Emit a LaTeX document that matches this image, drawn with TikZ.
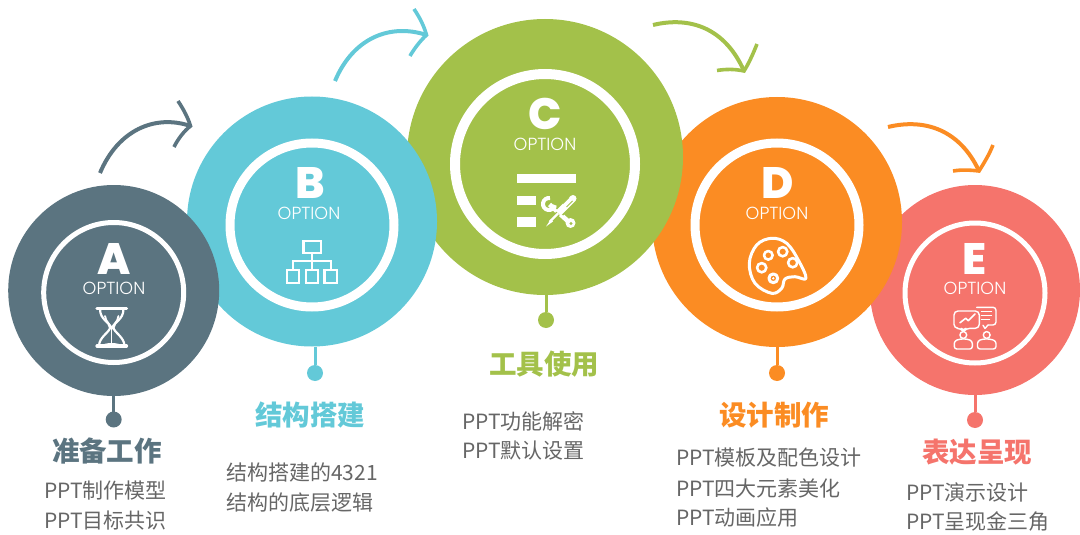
\documentclass[tikz,border=0pt]{standalone}
\usepackage{fontspec}
\setmainfont{Noto Sans CJK SC}
\newfontfamily\letterfont{Poppins ExtraBold}
\newfontfamily\optfont{Poppins Light}
\definecolor{ca}{HTML}{5B7480}
\definecolor{cb}{HTML}{63C9D8}
\definecolor{cc}{HTML}{A3C14A}
\definecolor{cd}{HTML}{FB8C23}
\definecolor{ce}{HTML}{F5746C}
\definecolor{bodygray}{HTML}{666666}
\tikzset{
  disc/.style={circle,fill=#1,inner sep=0pt,outer sep=0pt},
  ring/.style={circle,draw=white,inner sep=0pt,outer sep=0pt},
  dotnode/.style={circle,fill=#1,inner sep=0pt,outer sep=0pt,minimum size=16pt},
  stem/.style={draw=#1,line width=3pt},
  bend/.style={draw=#1,line width=4pt,line cap=butt},
  head/.style={draw=#1,line width=3.6pt,line cap=butt,line join=miter},
  letter/.style={text=white,font=\letterfont\fontsize{44}{44}\selectfont,inner sep=0pt,text height=22pt,text depth=0pt},
  opt/.style={text=white,font=\optfont\fontsize{17.5}{18}\selectfont,inner sep=0pt,text height=12.5pt,text depth=0pt},
  title/.style={text=#1,font=\bfseries\fontsize{27.5}{30}\selectfont,inner sep=0pt},
  body/.style={text=bodygray,font=\fontsize{21}{30}\selectfont,inner sep=0pt,anchor=west,align=left},
  icon/.style={draw=white,line width=#1,line join=round,line cap=round},
}
\begin{document}
\begin{tikzpicture}[x=1pt,y=-1pt]
\useasboundingbox (0,0) rectangle (1080,535);
% discs, back to front
\node[disc=ce,minimum size=210pt] (e) at (975,290) {};
\node[ring,line width=5pt,minimum size=140pt] (er) at (975,293) {};
\node[disc=cd,minimum size=250pt] (d) at (777,222) {};
\node[ring,line width=9pt,minimum size=164pt] (dr) at (777,225) {};
\node[disc=cc,minimum size=276pt] (c) at (545,157) {};
\node[ring,line width=10pt,minimum size=180pt] (cr) at (545,164) {};
\node[disc=cb,minimum size=250pt] (b) at (312,221.5) {};
\node[ring,line width=9pt,minimum size=164pt] (br) at (312,225) {};
\node[disc=ca,minimum size=211pt] (a) at (113.7,290.5) {};
\node[ring,line width=5pt,minimum size=140pt] (ar) at (113.7,292.5) {};
% dots and stems
\node[dotnode=ca] (ad) at (113.7,419.5) {};
\node[dotnode=cb] (bd) at (315,373) {};
\node[dotnode=cc] (cd1) at (546,320) {};
\node[dotnode=cd] (dd) at (777,373) {};
\node[dotnode=ce] (ed) at (975,420) {};
\draw[stem=ca] (ad) -- (ad |- a.south);
\draw[stem=cb] (bd) -- (bd |- b.south);
\draw[stem=cc] (cd1) -- (cd1 |- c.south);
\draw[stem=cd] (dd) -- (dd |- d.south);
\draw[stem=ce] (ed) -- (ed |- e.south);
% curved arrows
\coordinate (a1) at (100,173); \coordinate (a2) at (190.5,126);
\coordinate (a3) at (178,101); \coordinate (a4) at (174,147);
\draw[bend=ca] (a1) .. controls (118,130) and (155,114) .. (a2);
\draw[head=ca] (a3) .. controls (184,110) and (188,118) .. (a2) .. controls (184,131) and (178,139) .. (a4);
\coordinate (b1) at (335,81); \coordinate (b2) at (426.5,35);
\coordinate (b3) at (414,9); \coordinate (b4) at (410,56);
\draw[bend=cb] (b1) .. controls (353,38) and (390,23) .. (b2);
\draw[head=cb] (b3) .. controls (420,18) and (424,26) .. (b2) .. controls (420,41) and (414,49) .. (b4);
\coordinate (c1) at (653,25); \coordinate (c2) at (744,71);
\coordinate (c3) at (757,44); \coordinate (c4) at (717,70.5);
\draw[bend=cc] (c1) .. controls (690,16) and (725,28) .. (c2);
\draw[head=cc] (c3) .. controls (753,54) and (749,63) .. (c2) .. controls (735,69) and (726,69) .. (c4);
\coordinate (d1) at (888,127); \coordinate (d2) at (979,171);
\coordinate (d3) at (993,145); \coordinate (d4) at (953,171);
\draw[bend=cd] (d1) .. controls (925,118) and (960,130) .. (d2);
\draw[head=cd] (d3) .. controls (989,155) and (984,163) .. (d2) .. controls (970,170) and (962,169.5) .. (d4);
% circle letters
\node[letter,text height=30pt] (la) at (114,259) {A};
\node[opt] (oa) at (114,288) {OPTION};
\node[letter,text height=30pt] (lb) at (310,183) {B};
\node[opt] (ob) at (309,213.5) {OPTION};
\node[letter,text height=30pt] (lc) at (545,114) {C};
\node[opt] (oc) at (545,144) {OPTION};
\node[letter,text height=30pt] (ld) at (778,183) {D};
\node[opt] (od) at (777,213.5) {OPTION};
\node[letter,text height=30pt] (le) at (975,259) {E};
\node[opt] (oe) at (975,288) {OPTION};
% hourglass
\draw[icon=3.2pt] (97,308.5) -- (126.5,308.5);
\draw[icon=3.2pt] (97,346) -- (126.5,346);
\draw[icon=2.2pt] (100,309) .. controls (100,320) and (110,322) .. (110,327.5) .. controls (110,332) and (99,337) .. (99,346);
\draw[icon=2.2pt] (123.5,309) .. controls (123.5,320) and (113.5,322) .. (113.5,327.5) .. controls (113.5,332) and (124.5,337) .. (124.5,346);
\draw[icon=1.8pt] (105,316) .. controls (106,323) and (111,324) .. (111.7,329) .. controls (112.5,324) and (117.5,323) .. (118.5,316);
\draw[icon=1.4pt] (111.7,329) -- (111.7,343);
\fill[white] (101,346) .. controls (104,342) and (119,342) .. (122.5,346) -- cycle;
% org chart
\draw[icon=2.2pt,line join=miter] (303.5,241) rectangle (321,253.3);
\foreach \xa in {287,305.8,324.4}
  \draw[icon=2.2pt,line join=miter] (\xa,270.3) rectangle (\xa+12.3,282.7);
\draw[icon=2pt,line cap=butt,line join=miter] (312.2,253.3) -- (312.2,270.3);
\draw[icon=2pt,line cap=butt,line join=miter] (293.2,270.3) -- (293.2,261) -- (330.6,261) -- (330.6,270.3);
% tools and list
\fill[white] (517.3,174) rectangle (576,183.3);
\fill[white] (517.3,196) rectangle (536,205.3);
\fill[white] (517.3,217.3) rectangle (536,226.7);
\draw[white,line width=4.6pt] (549.5,204.5) -- (570,223);
\draw[white,line width=4pt] (550,198.1) arc[start angle=80,end angle=350,radius=6pt];
\fill[white] (570.5,223) circle[radius=5pt];
\fill[cc] (571,223.5) circle[radius=1.7pt];
\draw[cc,line width=10pt] (572.5,199) -- (559.5,212);
\draw[white,line width=7pt,line cap=round] (573,198.5) -- (559.8,211.7);
\draw[cc,line width=4.8pt] (558,213.5) -- (549,222.5);
\draw[white,line width=2.4pt] (558,213.5) -- (549.5,222);
\fill[white] (551,219) -- (546,226.5) -- (553,221.5) -- cycle;
\draw[cc,line width=.9pt] (569,197.5) -- (563,203.5) (572.5,201) -- (566.5,207);
% palette
\draw[icon=3pt] plot[smooth cycle,tension=.62] coordinates {(806,278.3) (798.3,260) (786.7,243.3) (771.7,238.3) (756.7,245) (749.3,263.3) (755,283.3) (771.7,293.3) (781.7,288.3) (785,279) (795,276.7)};
\draw[icon=2.6pt] (768.3,255.3) circle[radius=4.3pt];
\draw[icon=2.6pt] (782.7,251.7) circle[radius=4.6pt];
\draw[icon=2.6pt] (792.7,262.7) circle[radius=4.6pt];
\draw[icon=2.6pt] (761.7,267.7) circle[radius=4.6pt];
\draw[icon=3pt] (773.3,278.3) circle[radius=4.4pt];
\fill[white] (773.3,278.3) circle[radius=1.3pt];
% presenters
\draw[icon=1.4pt,rounded corners=4pt] (954,311) -- (979.3,311) -- (979.3,328.3) -- (966,328.3) -- (963.5,331.5) -- (961,328.3) -- (954,328.3) -- cycle;
\draw[icon=1.6pt] (960,322.7) -- (965.7,318.3) -- (968.3,320.7) -- (975,314);
\draw[icon=1.4pt,rounded corners=3pt] (976.7,307.3) -- (996,307.3) -- (996,325) -- (988,325);
\draw[icon=1.4pt] (988,325) -- (985,328.5) -- (983,325.2);
\draw[icon=1.2pt] (981.5,311.7) -- (991.5,311.7) (981.5,315.7) -- (991.5,315.7) (981.5,319.3) -- (989.5,319.3);
\draw[icon=1.4pt] (963.3,335) circle[radius=3.4pt];
\draw[icon=1.4pt] (986.7,335) circle[radius=3.4pt];
\draw[icon=1.4pt,rounded corners=2.5pt] (954.3,349) -- (954.3,341) -- (960,339) -- (967,339) -- (972.3,341) -- (972.3,349) -- cycle;
\draw[icon=1.4pt,rounded corners=2.5pt] (977.5,349) -- (977.5,341) -- (983,339) -- (990,339) -- (996,341) -- (996,349) -- cycle;
% titles
\node[title=ca] (ta) at (107,451) {准备工作};
\node[title=cb] (tb) at (310,415) {结构搭建};
\node[title=cc] (tc) at (544,364) {工具使用};
\node[title=cd] (td) at (774,415) {设计制作};
\node[title=ce] (te) at (977,452) {表达呈现};
% body text
\node[body] (ba1) at (44,490.5) {PPT制作模型};
\node[body] (ba2) at (44,520.5) {PPT目标共识};
\node[body] (bb1) at (226,472) {结构搭建的4321};
\node[body] (bb2) at (226,503) {结构的底层逻辑};
\node[body] (bc1) at (462,421) {PPT功能解密};
\node[body] (bc2) at (462,451) {PPT默认设置};
\node[body] (bd1) at (676,458) {PPT模板及配色设计};
\node[body] (bd2) at (676,488) {PPT四大元素美化};
\node[body] (bd3) at (676,518) {PPT动画应用};
\node[body] (be1) at (906,492) {PPT演示设计};
\node[body] (be2) at (906,522) {PPT呈现金三角};
\end{tikzpicture}
\end{document}
